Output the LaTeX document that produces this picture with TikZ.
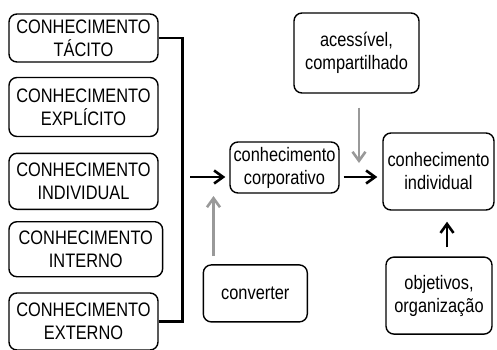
\documentclass[tikz,border=0pt]{standalone}
\usepackage{fontspec}
\setmainfont[FakeStretch=0.84]{Liberation Sans}
\usetikzlibrary{arrows.meta}
\tikzset{
  caixa/.style={draw, line width=1.4pt, rounded corners=8pt, align=center,
    inner sep=1pt, font=\fontsize{19.5}{23}\selectfont},
  seta/.style={line width=2.6pt, -{Straight Barb[length=9pt,width=13pt]}},
  setacinza/.style={seta, color=black!40},
}

\begin{document}
\begin{tikzpicture}[x=1pt,y=-1pt]
			%%%%% START %%%%%
			\clip (0,0) rectangle (497,349);
			
			% coluna da esquerda
			\node[caixa, minimum width=149pt, minimum height=48pt] (tacito) at (83.5,38) {CONHECIMENTO\\TÁCITO};
			\node[caixa, minimum width=149pt, minimum height=59pt] (explicito) at (83.5,107) {CONHECIMENTO\\EXPLÍCITO};
			\node[caixa, minimum width=149pt, minimum height=56pt] (individual) at (83.5,181.3) {CONHECIMENTO\\INDIVIDUAL};
			\node[caixa, minimum width=153.7pt, minimum height=55pt] (interno) at (85.8,249.2) {CONHECIMENTO\\INTERNO};
			\node[caixa, minimum width=149pt, minimum height=57pt] (externo) at (83.5,321.5) {CONHECIMENTO\\EXTERNO};
			
			\draw[line width=2.6pt] (tacito.east) -- ++(23.7,0) coordinate (topo) -- (topo |- externo.east) -- (externo.east);
			
			% centro e direita
			\node[caixa, minimum width=109pt, minimum height=51pt] (corporativo) at (284.5,167.5) {conhecimento\\corporativo};
			\node[caixa, minimum width=111pt, minimum height=77pt] (indiv) at (438.5,171.5) {conhecimento\\individual};
			\node[caixa, minimum width=125pt, minimum height=80pt] (acessivel) at (356.5,53) {acessível,\\compartilhado};
			\node[caixa, minimum width=104pt, minimum height=57pt] (converter) at (255.3,293.4) {converter};
			\node[caixa, minimum width=106pt, minimum height=77pt] (objetivos) at (439,295.6) {objetivos,\\organização};
			
			\coordinate (brk) at (190,177);
			\draw[seta, shorten >=4pt] (brk) -- (brk -| corporativo.west);
			\draw[seta, shorten <=4pt, shorten >=5pt] (brk -| corporativo.east) -- (brk -| indiv.west);
			
			\coordinate (desce) at (359,163);
			\draw[setacinza, shorten <=14pt] (desce |- acessivel.south) -- (desce);
			\coordinate (sobe) at (213.5,196);
			\draw[setacinza, shorten <=8pt] (sobe |- converter.north) -- (sobe);
			
			\draw[seta, shorten <=9pt, shorten >=11pt] ([xshift=8pt]objetivos.north) -- ([xshift=8pt]objetivos.north |- indiv.south);
			
			%%%%% END %%%%%
\end{tikzpicture}
\end{document}
